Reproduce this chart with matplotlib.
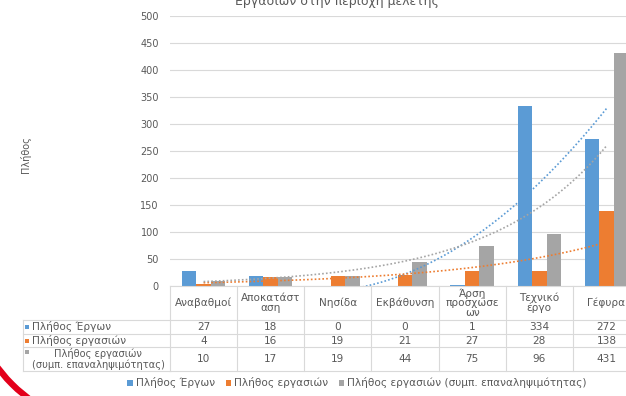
import numpy as np
import matplotlib
matplotlib.use("Agg")
from matplotlib import pyplot as plt
from matplotlib.patches import Rectangle, Arc
from matplotlib.lines import Line2D
from matplotlib.transforms import blended_transform_factory

"""--------------------------------- Data ---------------------------------"""

categories = ["Αναβαθμοί", "Αποκατάστ\nαση", "Νησίδα", "Εκβάθυνση",
              "Άρση\nπροσχώσε\nων", "Τεχνικό\nέργο", "Γέφυρα"]
series_names = ["Πλήθος Έργων", "Πλήθος εργασιών",
                "Πλήθος εργασιών (συμπ. επαναληψιμότητας)"]
row_labels = ["Πλήθος Έργων", "Πλήθος εργασιών",
              "Πλήθος εργασιών\n(συμπ. επαναληψιμότητας)"]
projects = [27, 18, 0, 0, 1, 334, 272]
works = [4, 16, 19, 21, 27, 28, 138]
works_rep = [10, 17, 19, 44, 75, 96, 431]
y_ticks = [0, 50, 100, 150, 200, 250, 300, 350, 400, 450, 500]

colors = ["#5B9BD5", "#ED7D31", "#A5A5A5"]
text_c = "#595959"
line_c = "#D9D9D9"

plt.rcParams['font.family'] = ['DejaVu Sans']

W, H = 626, 396


def fx(px):
    return px / W


def fy(py):
    return 1 - py / H


"""------------------------------- Plotting -------------------------------"""

fig = plt.figure(figsize=(W / 100, H / 100), dpi=100)
ax = fig.add_axes([fx(170), fy(286), 470 / W, 270 / H])

idx = np.arange(len(categories))
bw = 0.216
all_series = [projects, works, works_rep]
for i, vals in enumerate(all_series):
    ax.bar(idx + (i - 1) * bw, vals, width=bw, color=colors[i], zorder=2,
           label=series_names[i])

# trendlines (Excel style): polynomial for the first, exponential for the rest
xs = np.linspace(0, len(categories) - 1, 300)
p = np.polyfit(idx, projects, 2)
vertex = -p[1] / (2 * p[0])
xb = xs[xs >= vertex]
ax.plot(xb, np.polyval(p, xb), color=colors[0], lw=1.2,
        linestyle=(0, (1, 1.3)), zorder=3)
for i, vals in enumerate([works, works_rep]):
    k, b = np.polyfit(idx, np.log(vals), 1)
    ax.plot(xs, np.exp(b + k * xs), color=colors[i + 1], lw=1.2,
            linestyle=(0, (1, 1.3)), zorder=3)

ax.set_xlim(-0.5, len(categories) - 0.5)
ax.set_ylim(0, 500)
ax.set_yticks(y_ticks)
ax.set_xticks([])
ax.tick_params(axis='y', length=0, pad=8, labelsize=7, labelcolor=text_c)
ax.grid(axis='y', color=line_c, lw=0.8, zorder=0)
for s in ax.spines.values():
    s.set_visible(False)

fig.text(fx(25), fy(155), "Πλήθος", rotation=90, ha='center', va='center',
         fontsize=7, color=text_c)
fig.text(fx(337), fy(2), "Εργασιών στην περιοχή μελέτης", ha='center',
         va='center', fontsize=9, color=text_c)

"""------------------------------- Data table ------------------------------"""

tr = blended_transform_factory(ax.transData, fig.transFigure)
right = len(categories) - 0.5
rows_y = [320, 334, 347, 371]

# horizontal lines
fig.add_artist(Line2D([-0.5, right], [fy(286), fy(286)], transform=tr,
                      color=line_c, lw=0.8))
for ry in rows_y:
    fig.add_artist(Line2D([fx(23), fx(170)], [fy(ry), fy(ry)],
                          color=line_c, lw=0.8))
    fig.add_artist(Line2D([-0.5, right], [fy(ry), fy(ry)], transform=tr,
                          color=line_c, lw=0.8))
fig.add_artist(Line2D([fx(23), fx(23)], [fy(320), fy(371)],
                      color=line_c, lw=0.8))
for c in range(len(categories) + 1):
    fig.add_artist(Line2D([c - 0.5, c - 0.5], [fy(286), fy(371)],
                          transform=tr, color=line_c, lw=0.8))

for c, name in enumerate(categories):
    fig.text(c, fy(303), name, transform=tr, ha='center', va='center',
             fontsize=7.6, color=text_c, linespacing=0.92)

row_mid = [327, 340.5, 359]
for r, vals in enumerate(all_series):
    for c, v in enumerate(vals):
        fig.text(c, fy(row_mid[r]), str(v), transform=tr, ha='center',
                 va='center', fontsize=7.6, color=text_c)
    key_y = row_mid[r] if r < 2 else 352
    fig.add_artist(Rectangle((fx(25), fy(key_y + 2)), 4 / W, 4 / H,
                             color=colors[r], lw=0))
    if r < 2:
        fig.text(fx(32), fy(row_mid[r]), row_labels[r], ha='left',
                 va='center', fontsize=7.6, color=text_c)
    else:
        fig.text(fx(98), fy(row_mid[r]), row_labels[r], ha='center',
                 va='center', fontsize=7.1, color=text_c, linespacing=1.0)

"""-------------------------------- Legend --------------------------------"""

fig.legend(loc='center', bbox_to_anchor=(fx(357), fy(383)), ncol=3,
           frameon=False, fontsize=7.6, labelcolor=text_c, handlelength=0.5,
           handleheight=0.5, handletextpad=0.3, columnspacing=1.0)

# red annotation arc, partly visible in the lower left corner
r = 150
fig.add_artist(Arc((fx(118), fy(278)), 2 * r / W, 2 * r / H, theta1=180,
                   theta2=270, color="#E3001B", lw=4.5))

fig.savefig("out.png", dpi=100)
